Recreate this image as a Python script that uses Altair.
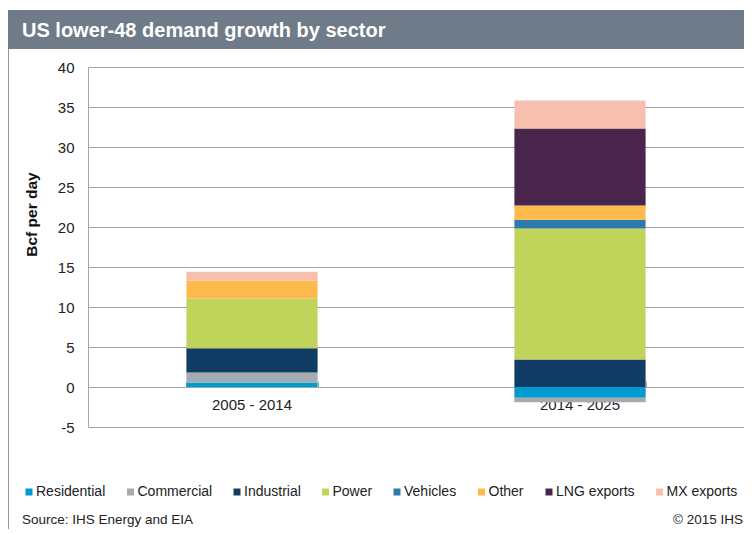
import altair as alt
import pandas as pd

periods = ["2005 - 2014", "2014 - 2025"]
sectors = ["Residential", "Commercial", "Industrial", "Power", "Vehicles",
           "Other", "LNG exports", "MX exports"]
colors = ["#0099D0", "#A3ABB0", "#103C64", "#C0D35A", "#2E7BAB",
          "#FDB94B", "#4A264E", "#F7C0AE"]
growth_2005_2014 = [0.55, 1.25, 3.05, 6.2, 0.0, 2.25, 0.0, 1.1]
growth_2014_2025 = [-1.35, -0.55, 3.45, 16.35, 1.1, 1.8, 9.6, 3.5]
y_ticks = [-5, 0, 5, 10, 15, 20, 25, 30, 35, 40]

title_text = "US lower-48 demand growth by sector"
source_text = "Source: IHS Energy and EIA"
copy_text = "\u00a9 2015 IHS"

rows = []
for p, vals in zip(periods, [growth_2005_2014, growth_2014_2025]):
    for i, (s, v) in enumerate(zip(sectors, vals)):
        rows.append({"period": p, "sector": s, "value": v, "idx": i})
df = pd.DataFrame(rows)

W, H = 656, 360
FONT = "Liberation Sans"
GRID = "#A0A5AC"

xscale = alt.Scale(paddingInner=0.6, paddingOuter=0.3)
yscale = alt.Scale(domain=[-5, 40], nice=False)

bars = alt.Chart(df).mark_bar().encode(
    x=alt.X("period:N", sort=periods, scale=xscale,
            axis=alt.Axis(title=None, orient="bottom", offset=-40, labelAngle=0,
                          ticks=False, tickSize=0, labelPadding=10,
                          labelFontSize=15, labelColor="#222222",
                          domain=True, domainColor=GRID, grid=False)),
    y=alt.Y("value:Q", stack="zero", scale=yscale,
            axis=alt.Axis(values=y_ticks, title="Bcf per day", orient="left",
                          ticks=False, tickSize=0, labelOverlap=False,
                          labelExpr="'' + datum.value",
                          labelPadding=14, labelFontSize=15, labelColor="#222222",
                          domain=True, domainColor=GRID, grid=True, gridColor=GRID,
                          titleFontSize=15.5, titleFontWeight="bold", titleColor="#111111",
                          titleX=-57, titleY=147, titleAngle=270, titleBaseline="middle",
                          titleAlign="center")),
    color=alt.Color("sector:N", scale=alt.Scale(domain=sectors, range=colors),
                    legend=alt.Legend(title=None, orient="none", legendX=-66, legendY=418,
                                      direction="horizontal", columns=8,
                                      symbolType="square", symbolSize=49,
                                      symbolStrokeWidth=0, labelFontSize=14,
                                      labelColor="#222222", labelOffset=0,
                                      columnPadding=17.5, labelLimit=0)),
    order=alt.Order("idx:Q"),
)

sep_ticks = alt.Chart(df).mark_bar(opacity=0).encode(
    x=alt.X("period:N", sort=periods, scale=xscale,
            axis=alt.Axis(title=None, orient="top", offset=-320, labels=False,
                          domain=False, ticks=True, tickBand="extent", tickSize=6,
                          tickColor=GRID, grid=False)),
    y=alt.Y("value:Q", stack="zero", scale=yscale, axis=None),
)

one = pd.DataFrame({"a": [0]})

title_bar = alt.Chart(one).mark_rect(color="#6F7B89").encode(
    x=alt.value(-80), x2=alt.value(W), y=alt.value(-57), y2=alt.value(-18))

border = alt.Chart(one).mark_rule(color="#8C96A2", strokeWidth=1).encode(
    x=alt.value(-79.5), y=alt.value(-18), y2=alt.value(470))

title = alt.Chart(pd.DataFrame({"t": [title_text]})).mark_text(
    align="left", baseline="alphabetic", color="white", fontSize=20,
    fontWeight="bold", font=FONT).encode(
    text="t:N", x=alt.value(-66), y=alt.value(-30))

source = alt.Chart(pd.DataFrame({"t": [source_text]})).mark_text(
    align="left", baseline="alphabetic", color="#222222", fontSize=13.5,
    font=FONT).encode(text="t:N", x=alt.value(-66), y=alt.value(457))

copyright_ = alt.Chart(pd.DataFrame({"t": [copy_text]})).mark_text(
    align="right", baseline="alphabetic", color="#222222", fontSize=13.5,
    font=FONT).encode(text="t:N", x=alt.value(W - 1), y=alt.value(457))

chart = alt.layer(bars, sep_ticks, title_bar, border, title, source, copyright_).resolve_axis(
    x="independent", y="independent"
).properties(
    width=W, height=H,
    autosize=alt.AutoSizeParams(type="none"),
    padding={"left": 80, "top": 59, "right": 0, "bottom": 102},
).configure(
    font=FONT,
).configure_view(stroke=None)

chart.save("out.html", embed_options={"renderer": "svg", "actions": False})
